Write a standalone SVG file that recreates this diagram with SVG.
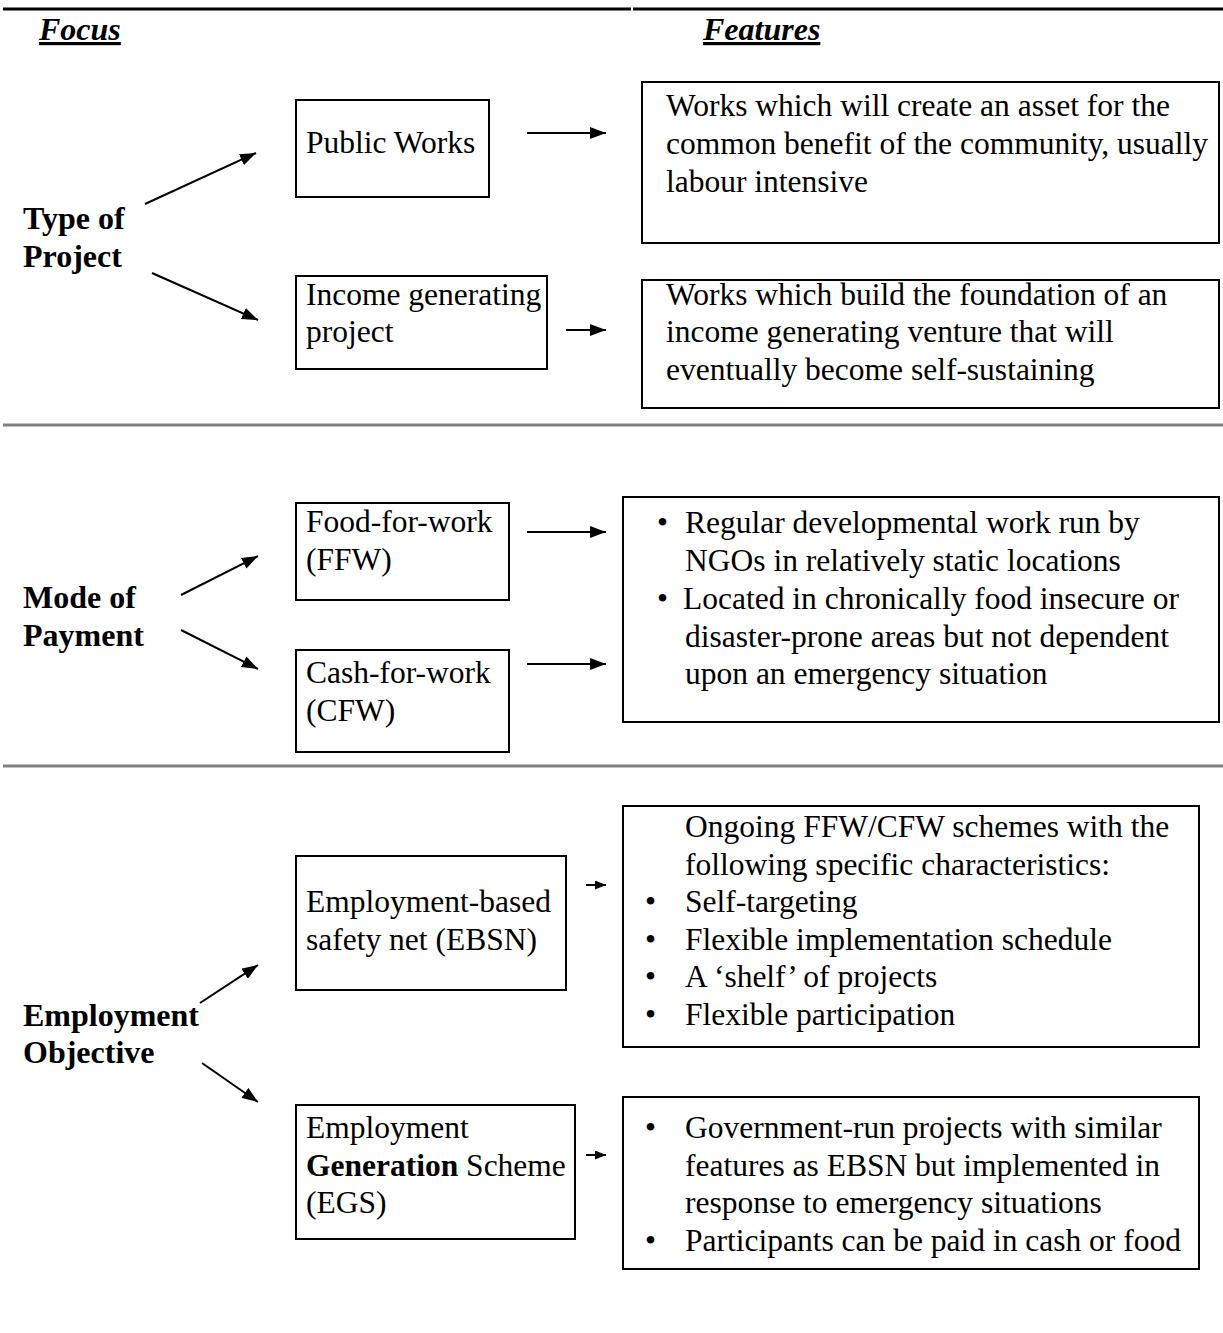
<svg xmlns="http://www.w3.org/2000/svg" width="1223" height="1333" viewBox="0 0 1223 1333">
<defs>
<marker id="ah" viewBox="0 0 16 12" refX="16" refY="6" markerWidth="16" markerHeight="12" markerUnits="userSpaceOnUse" orient="auto">
<path d="M0,0 L16,6 L0,12 z" fill="#000"/>
</marker>
<marker id="ahs" viewBox="0 0 11 9" refX="11" refY="4.5" markerWidth="11" markerHeight="9" markerUnits="userSpaceOnUse" orient="auto">
<path d="M0,0 L11,4.5 L0,9 z" fill="#000"/>
</marker>
</defs>
<style>
text{font-family:"Liberation Serif","Times New Roman",serif;fill:#000;}
.t{font-size:31.5px;}
.b{font-size:32px;font-weight:bold;}
.h{font-size:32px;font-weight:bold;font-style:italic;text-decoration:underline;}
.box{fill:#fff;stroke:#000;stroke-width:2;}
.sep{stroke:#808080;stroke-width:3;}
.con line{stroke:#000;stroke-width:2;}
</style>
<rect width="1223" height="1333" fill="#fff"/>

<g id="rules">
<line x1="3" y1="9" x2="631" y2="9" stroke="#000" stroke-width="3"/>
<line x1="633" y1="9" x2="1223" y2="9" stroke="#000" stroke-width="3"/>
<line class="sep" x1="3" y1="425" x2="1223" y2="425"/>
<line class="sep" x1="3" y1="766" x2="1223" y2="766"/>
</g>

<g id="headers">
<text class="h" x="39" y="40">Focus</text>
<text class="h" x="703" y="40">Features</text>
</g>

<g id="label-type">
<text class="b" x="23" y="229">Type of</text>
<text class="b" x="23" y="267">Project</text>
</g>
<g id="label-mode">
<text class="b" x="23" y="608">Mode of</text>
<text class="b" x="23" y="646">Payment</text>
</g>
<g id="label-emp">
<text class="b" x="23" y="1026">Employment</text>
<text class="b" x="23" y="1063">Objective</text>
</g>

<g id="public-works">
<rect class="box" x="296" y="100" width="193" height="97"/>
<text class="t" x="306" y="153">Public Works</text>
</g>
<g id="income-generating">
<rect class="box" x="296" y="276" width="251" height="93"/>
<text class="t" x="306" y="305">Income generating</text>
<text class="t" x="306" y="342">project</text>
</g>
<g id="feat-public">
<rect class="box" x="642" y="82" width="577" height="161"/>
<text class="t" x="666" y="116">Works which will create an asset for the</text>
<text class="t" x="666" y="154">common benefit of the community, usually</text>
<text class="t" x="666" y="192">labour intensive</text>
</g>
<g id="feat-income">
<rect class="box" x="642" y="280" width="577" height="128"/>
<text class="t" x="666" y="305">Works which build the foundation of an</text>
<text class="t" x="666" y="342">income generating venture that will</text>
<text class="t" x="666" y="380">eventually become self-sustaining</text>
</g>

<g id="ffw">
<rect class="box" x="296" y="503" width="213" height="97"/>
<text class="t" x="306" y="532">Food-for-work</text>
<text class="t" x="306" y="570">(FFW)</text>
</g>
<g id="cfw">
<rect class="box" x="296" y="650" width="213" height="102"/>
<text class="t" x="306" y="683">Cash-for-work</text>
<text class="t" x="306" y="721">(CFW)</text>
</g>
<g id="feat-payment">
<rect class="box" x="623" y="497" width="596" height="225"/>
<text class="t" x="657" y="533">•</text>
<text class="t" x="685" y="533">Regular developmental work run by</text>
<text class="t" x="685" y="571">NGOs in relatively static locations</text>
<text class="t" x="657" y="609">•</text>
<text class="t" x="683" y="609">Located in chronically food insecure or</text>
<text class="t" x="685" y="647">disaster-prone areas but not dependent</text>
<text class="t" x="685" y="684">upon an emergency situation</text>
</g>

<g id="ebsn">
<rect class="box" x="296" y="856" width="270" height="134"/>
<text class="t" x="306" y="912">Employment-based</text>
<text class="t" x="306" y="950">safety net (EBSN)</text>
</g>
<g id="egs">
<rect class="box" x="296" y="1105" width="279" height="134"/>
<text class="t" x="306" y="1138">Employment</text>
<text class="t" x="306" y="1176"><tspan font-weight="bold">Generation</tspan> Scheme</text>
<text class="t" x="306" y="1213">(EGS)</text>
</g>
<g id="feat-ebsn">
<rect class="box" x="623" y="806" width="576" height="241"/>
<text class="t" x="685" y="837">Ongoing FFW/CFW schemes with the</text>
<text class="t" x="685" y="875">following specific characteristics:</text>
<text class="t" x="645" y="912">•</text>
<text class="t" x="685" y="912">Self-targeting</text>
<text class="t" x="645" y="950">•</text>
<text class="t" x="685" y="950">Flexible implementation schedule</text>
<text class="t" x="645" y="987">•</text>
<text class="t" x="685" y="987">A ‘shelf’ of projects</text>
<text class="t" x="645" y="1025">•</text>
<text class="t" x="685" y="1025">Flexible participation</text>
</g>
<g id="feat-egs">
<rect class="box" x="623" y="1097" width="576" height="172"/>
<text class="t" x="645" y="1138">•</text>
<text class="t" x="685" y="1138">Government-run projects with similar</text>
<text class="t" x="685" y="1176">features as EBSN but implemented in</text>
<text class="t" x="685" y="1213">response to emergency situations</text>
<text class="t" x="645" y="1251">•</text>
<text class="t" x="685" y="1251">Participants can be paid in cash or food</text>
</g>

<g id="connectors" class="con">
<line x1="145" y1="204" x2="256" y2="153" marker-end="url(#ah)"/>
<line x1="152" y1="273" x2="258" y2="320" marker-end="url(#ah)"/>
<line x1="527" y1="133" x2="606" y2="133" marker-end="url(#ah)"/>
<line x1="566" y1="330" x2="606" y2="330" marker-end="url(#ah)"/>
<line x1="181" y1="595" x2="258" y2="556" marker-end="url(#ah)"/>
<line x1="181" y1="630" x2="258" y2="669" marker-end="url(#ah)"/>
<line x1="527" y1="532" x2="606" y2="532" marker-end="url(#ah)"/>
<line x1="527" y1="664" x2="606" y2="664" marker-end="url(#ah)"/>
<line x1="200" y1="1003" x2="258" y2="965" marker-end="url(#ah)"/>
<line x1="202" y1="1063" x2="258" y2="1102" marker-end="url(#ah)"/>
<line x1="586" y1="885" x2="606" y2="885" marker-end="url(#ahs)"/>
<line x1="586" y1="1155" x2="606" y2="1155" marker-end="url(#ahs)"/>
</g>
</svg>
